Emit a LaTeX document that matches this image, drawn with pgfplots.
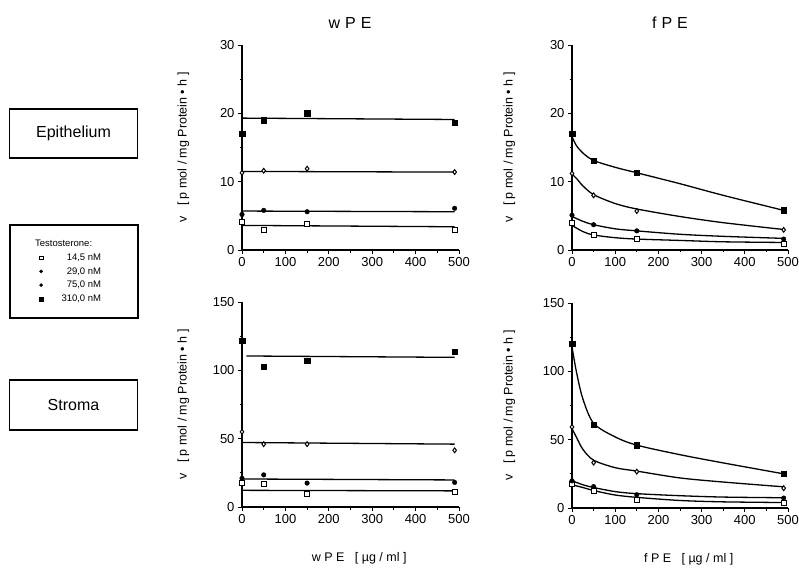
\documentclass[border=0pt]{standalone}
\usepackage{fontspec}
\setmainfont{Liberation Sans}
\usepackage{pgfplots}
\pgfplotsset{compat=1.18}
\pgfplotsset{
  panel/.style={scale only axis, width=217pt, height=205pt, xmin=0, xmax=500, ymin=0,
    axis x line*=bottom, axis y line*=left, x axis line style={-}, y axis line style={-},
    axis line style={line width=1.2pt}, tick style={black, line width=0.9pt},
    tick align=outside, major tick length=4pt, minor tick length=2.5pt,
    xtick={0,100,...,500}, minor x tick num=1, minor y tick num=1,
    clip=false, /pgf/number format/assume math mode=true,
    tick label style={font=\fontsize{13}{15}\selectfont},
    ylabel={v\ \ \ [ p mol / mg Protein • h ]},
    every axis y label/.style={at={(axis description cs:-0.27,0.5)}, rotate=90, anchor=center,
      font=\fontsize{12.5}{14}\selectfont},
    every axis x label/.style={at={(axis description cs:0.54,-0.25)}, anchor=center,
      font=\fontsize{12.5}{14}\selectfont}},
  fit/.style={black, line width=1.3pt, no marks, forget plot},
  fitc/.style={black, line width=1.3pt, no marks, smooth, forget plot},
  m14/.style={only marks, mark=square*, mark size=2.5pt, black, mark options={fill=white, line width=1pt}},
  m29/.style={only marks, mark=diamond*, mark size=2.4pt, black, mark options={fill=white, line width=1pt}},
  m75/.style={only marks, mark=*, mark size=2.3pt, black},
  m310/.style={only marks, mark=square*, mark size=2.7pt, black},
}
\begin{document}
\begin{tikzpicture}[x=1pt,y=1pt]
\path[use as bounding box] (0,0) rectangle (799,576);

\node[font=\fontsize{16}{18}\selectfont] at (350,553) {w\hspace{5pt}P\hspace{5pt}E};
\node[font=\fontsize{16}{18}\selectfont] at (670,553) {f\hspace{5pt}P\hspace{5pt}E};

\node[draw, line width=1.3pt, minimum width=128pt, minimum height=49pt, font=\fontsize{16}{18}\selectfont] at (73.5,442.5) {Epithelium};
\node[draw, line width=1.3pt, minimum width=128pt, minimum height=50pt, font=\fontsize{16}{18}\selectfont] at (73.5,171) {Stroma};
\draw[line width=1.3pt] (10,258) rectangle (138,351);

% epithelium, wPE
\begin{axis}[panel, at={(242pt,326pt)}, anchor=south west, ymax=30, ytick={0,10,20,30},
  legend style={at={(axis description cs:-0.966,0.058)}, anchor=north west, draw=none, fill=none,
    font=\fontsize{9.5}{11}\selectfont, row sep=1.5pt, inner sep=0pt},
  legend cell align=left]
\addlegendimage{empty legend}
\addlegendentry{\makebox[56pt][l]{\hspace*{-10pt}Testosterone:}\rule[-6pt]{0pt}{6pt}}
\addlegendimage{only marks, mark=square*, mark size=1.9pt, black, mark options={fill=white, line width=0.9pt}}
\addlegendentry{\makebox[56pt][r]{14,5 nM}}
\addlegendimage{only marks, mark=*, mark size=1.6pt, black}
\addlegendentry{\makebox[56pt][r]{29,0 nM}}
\addlegendimage{only marks, mark=*, mark size=1.6pt, black}
\addlegendentry{\makebox[56pt][r]{75,0 nM}}
\addlegendimage{only marks, mark=square*, mark size=2pt, black}
\addlegendentry{\makebox[56pt][r]{310,0 nM}}
\addplot[fit] coordinates {(0,19.3)(490,19.1)};
\addplot[fit] coordinates {(0,11.5)(490,11.4)};
\addplot[fit] coordinates {(0,5.7)(490,5.6)};
\addplot[fit] coordinates {(0,3.6)(490,3.4)};
\addplot[m14, forget plot] coordinates {(0,4.1)(50,3.0)(150,3.8)(490,3.0)};
\addplot[m29, forget plot] coordinates {(0,11.3)(50,11.6)(150,11.9)(490,11.4)};
\addplot[m75, forget plot] coordinates {(0,5.2)(50,5.8)(150,5.6)(490,6.1)};
\addplot[m310, forget plot] coordinates {(0,17.0)(50,19.0)(150,20.0)(490,18.6)};
\end{axis}

% epithelium, fPE
\begin{axis}[panel, at={(572pt,326pt)}, anchor=south west, width=216pt, ymax=30, ytick={0,10,20,30},
  every axis y label/.append style={at={(axis description cs:-0.29,0.5)}}]
\addplot[fitc] coordinates {(0,16.6)(10,15.3)(25,14.2)(50,13.1)(100,12.1)(150,11.3)(250,9.7)(350,8.0)(490,5.8)};
\addplot[fitc] coordinates {(0,11.1)(10,10.5)(25,9.4)(50,8.1)(100,6.8)(150,6.0)(250,4.9)(350,4.0)(490,3.0)};
\addplot[fitc] coordinates {(0,4.9)(25,4.2)(50,3.7)(100,3.1)(150,2.8)(250,2.3)(350,2.0)(490,1.7)};
\addplot[fitc] coordinates {(0,3.6)(25,2.7)(50,2.2)(100,1.8)(150,1.6)(250,1.4)(350,1.2)(490,1.1)};
\addplot[m14] coordinates {(0,4.0)(50,2.2)(150,1.6)(490,0.85)};
\addplot[m29] coordinates {(0,11.2)(50,8.0)(150,5.7)(490,2.95)};
\addplot[m75] coordinates {(0,5.1)(50,3.7)(150,2.8)(490,1.6)};
\addplot[m310] coordinates {(0,17.0)(50,13.1)(150,11.3)(490,5.8)};
\end{axis}

% stroma, wPE
\begin{axis}[panel, at={(242pt,69pt)}, anchor=south west, ymax=150, ytick={0,50,100,150},
  xlabel={w P E\ \ \ [ µg / ml ]}]
\addplot[fit] coordinates {(10,110.5)(490,109.5)};
\addplot[fit] coordinates {(0,47.2)(490,46.0)};
\addplot[fit] coordinates {(0,20.5)(490,19.8)};
\addplot[fit] coordinates {(0,12.2)(490,11.8)};
\addplot[m14] coordinates {(0,17.5)(50,16.5)(150,9.5)(490,10.8)};
\addplot[m29] coordinates {(0,55)(50,46)(150,46)(490,41.5)};
\addplot[m75] coordinates {(0,21)(50,23.5)(150,17.5)(490,18)};
\addplot[m310] coordinates {(0,121.5)(50,102.5)(150,107)(490,113.5)};
\end{axis}

% stroma, fPE
\begin{axis}[panel, at={(572pt,68pt)}, anchor=south west, width=216pt, ymax=150, ytick={0,50,100,150},
  xlabel={f P E\ \ \ [ µg / ml ]},
  every axis y label/.append style={at={(axis description cs:-0.29,0.5)}}]
\addplot[fitc] coordinates {(0,118)(10,100)(25,80)(50,62)(100,52)(150,46)(250,39)(350,33)(490,25)};
\addplot[fitc] coordinates {(0,58)(10,52)(25,43)(50,35)(100,29.5)(150,27)(250,22)(350,19)(490,15.5)};
\addplot[fitc] coordinates {(0,20)(25,17)(50,15)(100,12)(150,10.5)(250,9)(350,8)(490,7.5)};
\addplot[fitc] coordinates {(0,17)(25,15)(50,12.8)(100,9.5)(150,7.8)(250,5.5)(350,4.5)(490,4.0)};
\addplot[m14] coordinates {(0,17.4)(50,12.8)(150,6.1)(490,3.6)};
\addplot[m29] coordinates {(0,59.3)(50,33.2)(150,26.6)(490,14.5)};
\addplot[m75] coordinates {(0,19.9)(50,15.7)(150,9.7)(490,7.3)};
\addplot[m310] coordinates {(0,120.3)(50,61)(150,46)(490,25)};
\end{axis}
\end{tikzpicture}
\end{document}
